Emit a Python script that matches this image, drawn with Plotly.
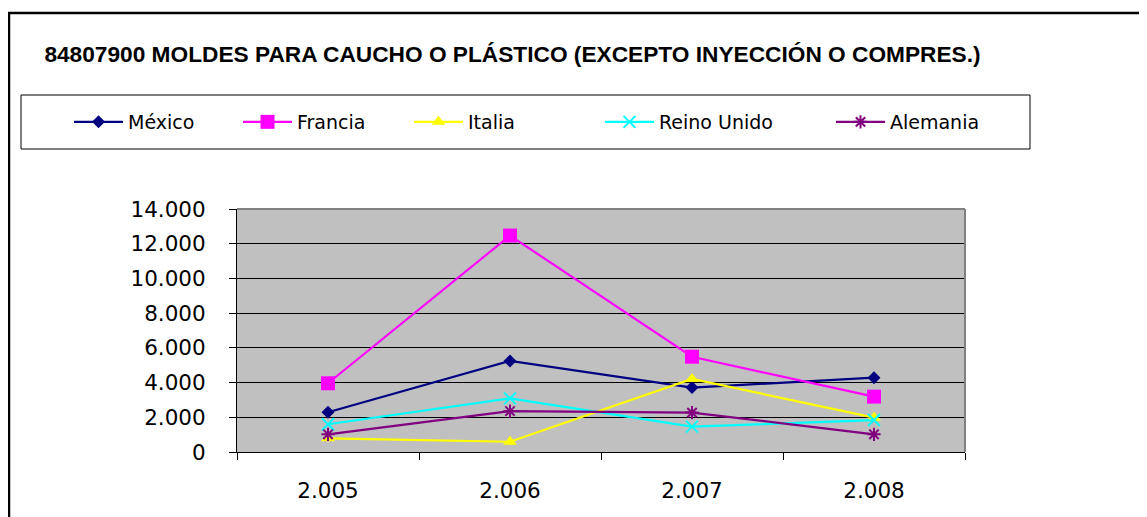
import plotly.graph_objects as go

years = ["2.005", "2.006", "2.007", "2.008"]
mexico = [2290, 5250, 3710, 4280]
francia = [3960, 12470, 5490, 3190]
italia = [790, 590, 4210, 1980]
reino_unido = [1600, 3090, 1460, 1840]
alemania = [1020, 2360, 2270, 1020]

y_tickvals = [0, 2000, 4000, 6000, 8000, 10000, 12000, 14000]
y_ticktext = ["0", "2.000", "4.000", "6.000", "8.000", "10.000", "12.000", "14.000"]

title_text = "84807900 MOLDES PARA CAUCHO O PLÁSTICO (EXCEPTO INYECCIÓN O COMPRES.)"

OFF = 8  # page body margin
W, H = 1147 - OFF, 517 - OFF
L, R, T, B = 237 - OFF, 965 - OFF, 209 - OFF, 452 - OFF


def px(xp):
    return (xp - OFF - L) / (R - L)


def py(yp):
    return (B - (yp - OFF)) / (B - T)


series = [
    ("México", mexico, "#000080", "diamond", 10, 73),
    ("Francia", francia, "#FF00FF", "square", 14, 242),
    ("Italia", italia, "#FFFF00", "triangle-up", 12, 413),
    ("Reino Unido", reino_unido, "#00FFFF", "x-thin-open", 12, 604),
    ("Alemania", alemania, "#800080", "asterisk-open", 11, 835),
]

fig = go.Figure()
legend_layouts = {}
for i, (name, vals, color, sym, size, lx) in enumerate(series):
    lg = "legend" if i == 0 else f"legend{i + 1}"
    fig.add_trace(go.Scatter(
        x=years, y=vals, name=name, mode="lines+markers",
        line=dict(color=color, width=2.2),
        marker=dict(symbol=sym, size=size, color=color,
                    line=dict(color=color, width=2 if "open" in sym else 0)),
        legend=lg,
    ))
    legend_layouts[lg] = dict(
        x=px(lx - 4), xanchor="left", y=py(122), yanchor="middle",
        bgcolor="rgba(0,0,0,0)", borderwidth=0,
        font=dict(family="DejaVu Sans", size=19, color="black"),
        itemwidth=49,
    )

fig.update_layout(
    width=W, height=H,
    margin=dict(l=L, r=W - R, t=T, b=H - B),
    paper_bgcolor="white",
    plot_bgcolor="#C0C0C0",
    showlegend=True,
    title=dict(text=title_text, x=(512.5 - OFF) / W, y=1 - (54 - OFF) / H,
               xref="container", yref="container",
               xanchor="center", yanchor="middle",
               font=dict(family="Liberation Sans", size=22.7, color="black", weight="bold")),
    xaxis=dict(type="category", range=[-0.5, 3.5], showgrid=False, zeroline=False,
               showline=True, linecolor="black", linewidth=1,
               ticks="outside", tickson="boundaries", ticklen=7, tickcolor="black",
               tickfont=dict(family="DejaVu Sans", size=21.5, color="black"),
               ticklabelstandoff=19),
    yaxis=dict(range=[0, 14000], tickvals=y_tickvals, ticktext=y_ticktext,
               showgrid=True, gridcolor="black", gridwidth=1, zeroline=False,
               showline=True, linecolor="black", linewidth=1,
               ticks="outside", ticklen=7, tickcolor="black",
               tickfont=dict(family="DejaVu Sans", size=21.5, color="black"),
               ticklabelstandoff=19),
    **legend_layouts,
)

shapes = [
    # outer chart border
    dict(type="rect", xref="paper", yref="paper", x0=px(9), x1=px(1170), y0=py(540), y1=py(13),
         line=dict(color="black", width=2.5), fillcolor="rgba(0,0,0,0)", layer="above"),
    # legend box
    dict(type="rect", xref="paper", yref="paper", x0=px(21), x1=px(1030), y0=py(149), y1=py(95),
         line=dict(color="black", width=1), fillcolor="rgba(0,0,0,0)", layer="above"),
    # plot area top/right border (gray)
    dict(type="line", xref="paper", yref="paper", x0=0, x1=1, y0=1, y1=1,
         line=dict(color="#808080", width=2), layer="above"),
    dict(type="line", xref="paper", yref="paper", x0=1, x1=1, y0=0, y1=1,
         line=dict(color="#808080", width=2), layer="above"),
]
fig.update_layout(shapes=shapes)

fig.write_html("out.html")
